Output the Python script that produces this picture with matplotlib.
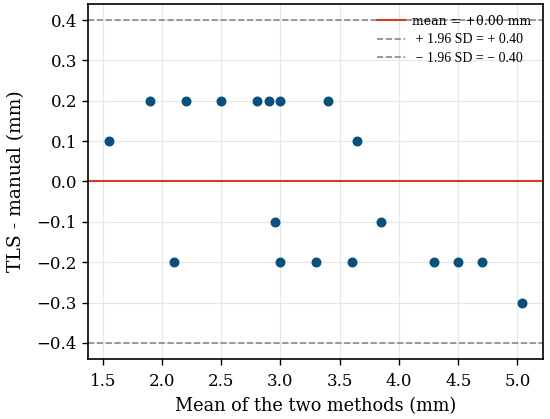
import matplotlib
matplotlib.use("Agg")
import matplotlib.pyplot as plt
import numpy as np

mean_vals = [1.55, 1.9, 2.2, 2.5, 2.8, 2.9, 3.0, 3.4, 3.65,
             2.1, 2.95, 3.0, 3.3, 3.6, 3.85, 4.3, 4.5, 4.7, 5.04]
diff_vals = [0.1, 0.2, 0.2, 0.2, 0.2, 0.2, 0.2, 0.2, 0.1,
             -0.2, -0.1, -0.2, -0.2, -0.2, -0.1, -0.2, -0.2, -0.2, -0.3]
bias = 0.0
upper_loa = 0.40
lower_loa = -0.40
legend_labels = ["mean = +0.00 mm", " + 1.96 SD = + 0.40", " \u2212 1.96 SD = \u2212 0.40"]

plt.rcParams['font.family'] = 'DejaVu Serif'

fig = plt.figure(figsize=(5.5, 4.19), dpi=100)
ax = fig.add_axes([0.16, 0.1432, 0.827, 0.8473])

ax.scatter(mean_vals, diff_vals, s=38, color='#0a4f7e', zorder=3)
l1 = ax.axhline(bias, color='#d9372a', lw=1.5, zorder=2)
l2 = ax.axhline(upper_loa, color='#888888', lw=1.2, ls='--', zorder=2)
l3 = ax.axhline(lower_loa, color='#888888', lw=1.2, ls='--', zorder=2)

ax.grid(True, color='#e6e6e6', lw=0.8, zorder=0)
ax.set_axisbelow(True)
ax.set_xticks(np.arange(1.5, 5.01, 0.5))
ax.set_yticks(np.arange(-0.4, 0.41, 0.1))
ax.tick_params(labelsize=12, length=4.5, width=1, pad=3.5)
ax.tick_params(axis='x', pad=5.5)
for s in ax.spines.values():
    s.set_linewidth(1.2)
ax.set_xlabel("Mean of the two methods (mm)", fontsize=12.8, labelpad=5)
ax.set_ylabel("TLS - manual (mm)", fontsize=13.5, labelpad=8)

leg = ax.legend([l1, l2, l3], legend_labels, loc='upper right', frameon=False,
                prop={'family': 'Liberation Serif', 'size': 10},
                handlelength=2.0, handletextpad=0.55, borderaxespad=0.4,
                labelspacing=0.38)
t0 = leg.get_texts()[0]
t0.set_fontfamily('DejaVu Serif')
t0.set_fontsize(9)

fig.savefig("out.png", dpi=100)
